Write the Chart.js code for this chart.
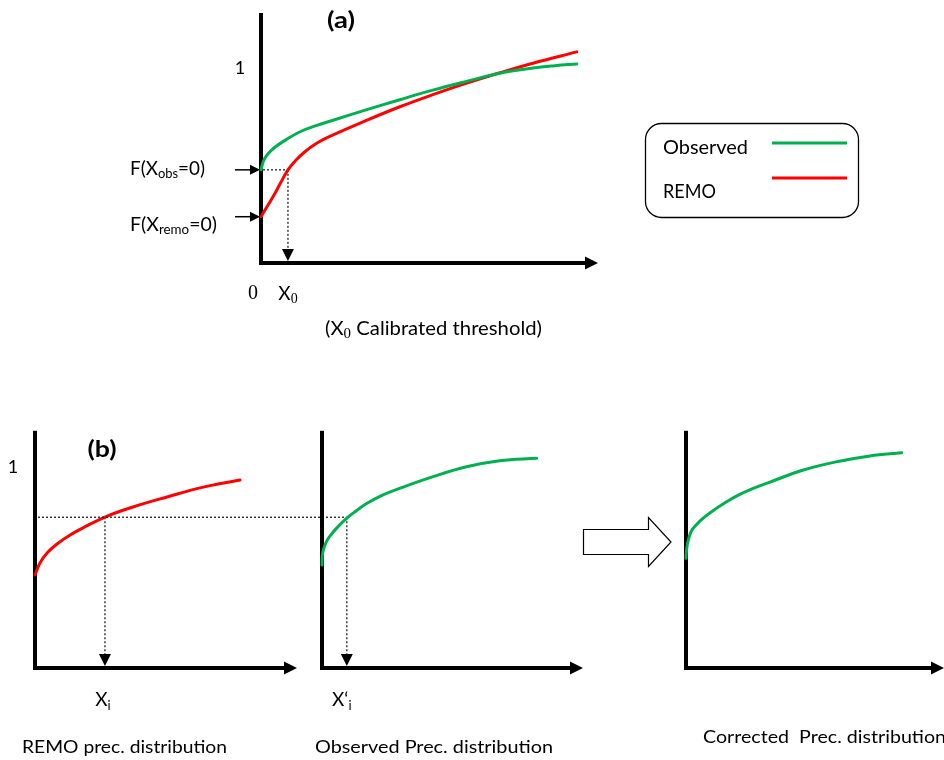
<!DOCTYPE html>
<html><head><meta charset="utf-8">
<script src="https://cdn.jsdelivr.net/npm/chart.js@4"></script>
<style>
html,body{margin:0;padding:0;background:#fff;}
#wrap{position:relative;width:944px;height:760px;overflow:hidden;}
canvas{position:absolute;left:0;top:0;}
</style></head><body>
<div id="wrap">
<canvas id="ca" width="944" height="760"></canvas>
<canvas id="cb1" width="944" height="760"></canvas>
<canvas id="cb2" width="944" height="760"></canvas>
<canvas id="cb3" width="944" height="760"></canvas>
</div>
<script>
// ---------------- DATA ----------------
const seriesNames = ['Observed', 'REMO'];
// Panel (a): CDFs of observed and REMO precipitation
const aObsX  = [0, 0.07, 0.16, 0.29, 0.47, 0.71, 1.16, 1.63, 2.14, 3.14, 4.12, 5.10, 6.10, 7.09, 8.07, 8.72, 9.37];
const aObsY  = [0.477, 0.521, 0.549, 0.574, 0.600, 0.628, 0.672, 0.703, 0.731, 0.785, 0.836, 0.885, 0.930, 0.972, 0.998, 1.010, 1.019];
const aRemoX = [0, 0.36, 0.59, 0.80, 1.01, 1.25, 1.65, 2.14, 3.14, 4.12, 5.10, 6.10, 7.09, 8.07, 9.37];
const aRemoY = [0.237, 0.340, 0.413, 0.477, 0.521, 0.562, 0.613, 0.656, 0.731, 0.800, 0.862, 0.921, 0.974, 1.023, 1.081];
const aThresholdX = 0.80;   // X0 calibrated threshold
const aObsAtZero  = 0.477;  // F(Xobs=0)
const aRemoAtZero = 0.237;  // F(Xremo=0)
// Panel (b): quantile mapping
const b1RemoX = [0, 0.19, 0.46, 0.84, 1.34, 1.83, 2.67, 3.74, 5.04, 6.30, 7.82];
const b1RemoY = [0.463, 0.522, 0.572, 0.617, 0.662, 0.697, 0.751, 0.801, 0.851, 0.896, 0.935];
const b2ObsX  = [0, 0.01, 0.07, 0.17, 0.31, 0.57, 0.95, 1.26, 1.71, 2.34, 2.98, 4.26, 5.54, 6.81, 8.22];
const b2ObsY  = [0.512, 0.557, 0.595, 0.629, 0.657, 0.697, 0.745, 0.777, 0.818, 0.861, 0.894, 0.952, 1.001, 1.031, 1.043];
const b3CorrX = [0, 0.03, 0.10, 0.21, 0.41, 0.70, 1.06, 1.47, 1.97, 2.56, 3.26, 4.55, 5.84, 7.13, 8.36];
const b3CorrY = [0.546, 0.597, 0.642, 0.682, 0.714, 0.749, 0.784, 0.818, 0.856, 0.891, 0.925, 0.985, 1.026, 1.055, 1.071];
const bQuantile = 0.75;  // common probability level
const bXi = 2.67;        // Xi
const bXiPrime = 0.95;   // X'i
const yTickLabel = '1';

// ---------------- STYLE ----------------
const GREEN = '#00B050', RED = '#FF0000';
const SANS = 'Lato, "Open Sans", sans-serif';
const SERIF = '"Liberation Serif", "DejaVu Serif", serif';

function richWidth(ctx, parts){ let w=0; for(const p of parts){ctx.font=p.font; w+=ctx.measureText(p.t).width;} return w; }
function drawRich(ctx, parts, x, y, opts={}){
  const align = opts.align || 'left';
  const natural = richWidth(ctx, parts);
  const target = opts.width || natural;
  const sx = target / natural;
  const x0 = align==='center' ? x - target/2 : (align==='right' ? x - target : x);
  ctx.save(); ctx.translate(x0, y); ctx.scale(sx, 1);
  ctx.textBaseline='middle'; ctx.textAlign='left'; ctx.fillStyle='#000';
  let cx = 0;
  for(const p of parts){ ctx.font=p.font; ctx.fillText(p.t, cx, p.dy||0); cx += ctx.measureText(p.t).width; }
  ctx.restore();
}
function drawAxes(chart){
  const {ctx, chartArea:{left,right,top,bottom}} = chart;
  ctx.save(); ctx.strokeStyle='#000'; ctx.lineWidth=4;
  ctx.beginPath(); ctx.moveTo(left, top); ctx.lineTo(left, bottom+2); ctx.stroke();
  ctx.beginPath(); ctx.moveTo(left-2, bottom); ctx.lineTo(right-12, bottom); ctx.stroke();
  ctx.fillStyle='#000'; ctx.beginPath();
  ctx.moveTo(right, bottom); ctx.lineTo(right-13, bottom-6.5); ctx.lineTo(right-13, bottom+6.5); ctx.closePath(); ctx.fill();
  ctx.restore();
}
function dotted(ctx, x1, y1, x2, y2){
  ctx.save(); ctx.strokeStyle='#222'; ctx.lineWidth=1.3; ctx.setLineDash([2,2]);
  ctx.beginPath(); ctx.moveTo(x1,y1); ctx.lineTo(x2,y2); ctx.stroke(); ctx.restore();
}
function downHead(ctx, x, yTip){
  ctx.save(); ctx.fillStyle='#000'; ctx.beginPath();
  ctx.moveTo(x, yTip); ctx.lineTo(x-6, yTip-12); ctx.lineTo(x+6, yTip-12); ctx.closePath(); ctx.fill(); ctx.restore();
}
function dropArrow(chart, xv, yv){
  const {ctx} = chart; const xs = chart.scales.x, ys = chart.scales.y;
  const px = xs.getPixelForValue(xv), py = ys.getPixelForValue(yv), pb = ys.getPixelForValue(0) - 2;
  dotted(ctx, px, py, px, pb - 11);
  downHead(ctx, px, pb);
}
function rightArrow(ctx, x1, x2, y){
  ctx.save(); ctx.strokeStyle='#000'; ctx.lineWidth=1.5;
  ctx.beginPath(); ctx.moveTo(x1, y); ctx.lineTo(x2-9, y); ctx.stroke();
  ctx.fillStyle='#000'; ctx.beginPath(); ctx.moveTo(x2, y); ctx.lineTo(x2-10, y-5); ctx.lineTo(x2-10, y+5); ctx.closePath(); ctx.fill();
  ctx.restore();
}
function ds(label, xs, ys, color){
  return { label, data: xs.map((x,i)=>({x, y: ys[i]})), showLine:true, borderColor:color, backgroundColor:color,
    borderWidth:3, pointRadius:0, tension:0.4, fill:false, clip:false, borderCapStyle:'round', borderJoinStyle:'round' };
}
function panelChart(id, datasets, area, xMax, yMax, plugin){
  return new Chart(document.getElementById(id), {
    type:'scatter',
    data:{datasets},
    options:{
      responsive:false, animation:false, devicePixelRatio:1, events:[],
      layout:{padding:{left:area.left, top:area.top, right:944-area.right, bottom:760-area.bottom}},
      scales:{ x:{type:'linear', min:0, max:xMax, display:false}, y:{type:'linear', min:0, max:yMax, display:false} },
      plugins:{ legend:{display:false}, tooltip:{enabled:false} }
    },
    plugins:[plugin]
  });
}

// ---------------- PANEL (a) ----------------
const chartA = panelChart('ca',
  [ds(seriesNames[0], aObsX, aObsY, GREEN), ds(seriesNames[1], aRemoX, aRemoY, RED)],
  {left:261, right:598, top:13, bottom:263}, 10, 1.28,
  { id:'panelA',
    beforeDatasetsDraw(chart){
      const {ctx} = chart; const xs=chart.scales.x, ys=chart.scales.y;
      drawAxes(chart);
      const x0 = xs.getPixelForValue(0), xt = xs.getPixelForValue(aThresholdX), yo = ys.getPixelForValue(aObsAtZero);
      dotted(ctx, x0+2, yo, xt, yo);
      dropArrow(chart, aThresholdX, aObsAtZero);
      rightArrow(ctx, x0-26, x0-1, ys.getPixelForValue(aObsAtZero));
      rightArrow(ctx, x0-26, x0-1, ys.getPixelForValue(aRemoAtZero));
    },
    afterDraw(chart){
      const {ctx} = chart; const xs=chart.scales.x, ys=chart.scales.y;
      const x0 = xs.getPixelForValue(0);
      drawRich(ctx, [{t:'(a)', font:'bold 22px '+SANS}], 341, 21, {align:'center', width:28});
      drawRich(ctx, [{t:yTickLabel, font:'18px '+SANS}], x0-21, ys.getPixelForValue(1), {align:'center'});
      drawRich(ctx, [{t:'F(X', font:'19px '+SANS},{t:'obs', font:'13px '+SANS, dy:5},{t:'=0)', font:'19px '+SANS}],
        130, ys.getPixelForValue(aObsAtZero)-1, {width:75});
      drawRich(ctx, [{t:'F(X', font:'19px '+SANS},{t:'remo', font:'13px '+SANS, dy:5},{t:'=0)', font:'19px '+SANS}],
        130, ys.getPixelForValue(aRemoAtZero)+8, {width:87});
      drawRich(ctx, [{t:'0', font:'20px '+SERIF}], x0-8, 294, {align:'center'});
      drawRich(ctx, [{t:'X', font:'19px '+SANS},{t:'0', font:'14px '+SERIF, dy:5}], xs.getPixelForValue(aThresholdX), 294, {align:'center'});
      drawRich(ctx, [{t:'(X', font:'19px '+SANS},{t:'0', font:'14px '+SERIF, dy:5},{t:' Calibrated threshold)', font:'19px '+SANS}],
        325, 329, {width:217});
      // legend box
      ctx.save(); ctx.strokeStyle='#000'; ctx.lineWidth=1.3;
      ctx.beginPath(); ctx.roundRect(645.5, 123.5, 213, 94, 16); ctx.stroke(); ctx.restore();
      const dsets = chart.data.datasets;
      const rows = [{txtY:148, lineY:143}, {txtY:192, lineY:178}];
      dsets.forEach((d,i)=>{
        drawRich(ctx, [{t:d.label, font:'20px '+SANS}], 663, rows[i].txtY, {width: i===0?85:53});
        ctx.save(); ctx.strokeStyle=d.borderColor; ctx.lineWidth=3;
        ctx.beginPath(); ctx.moveTo(772, rows[i].lineY); ctx.lineTo(847, rows[i].lineY); ctx.stroke(); ctx.restore();
      });
    }
  });

// ---------------- PANEL (b) ----------------
const B_YMAX = 1.18;
const chartB1 = panelChart('cb1', [ds(seriesNames[1], b1RemoX, b1RemoY, RED)],
  {left:35, right:297, top:430.8, bottom:668}, 10, B_YMAX,
  { id:'panelB1',
    beforeDatasetsDraw(chart){ drawAxes(chart); dropArrow(chart, bXi, bQuantile); },
    afterDraw(chart){
      const {ctx} = chart; const xs=chart.scales.x, ys=chart.scales.y;
      drawRich(ctx, [{t:'(b)', font:'bold 22px '+SANS}], 102, 450, {align:'center', width:29});
      drawRich(ctx, [{t:yTickLabel, font:'18px '+SANS}], 13, ys.getPixelForValue(1), {align:'center'});
      drawRich(ctx, [{t:'X', font:'19px '+SANS},{t:'i', font:'13px '+SANS, dy:6}], xs.getPixelForValue(bXi)-2, 700, {align:'center'});
      drawRich(ctx, [{t:'REMO prec. distribution', font:'18px '+SANS}], 22, 747, {width:205});
    }
  });
const chartB2 = panelChart('cb2', [ds(seriesNames[0], b2ObsX, b2ObsY, GREEN)],
  {left:322, right:583, top:430.8, bottom:668}, 10, B_YMAX,
  { id:'panelB2',
    beforeDatasetsDraw(chart){
      const {ctx} = chart; const xs=chart.scales.x, ys=chart.scales.y;
      const yq = ys.getPixelForValue(bQuantile);
      dotted(ctx, chartB1.scales.x.getPixelForValue(0)+3, yq, xs.getPixelForValue(bXiPrime), yq);
      drawAxes(chart);
      dropArrow(chart, bXiPrime, bQuantile);
    },
    afterDraw(chart){
      const {ctx} = chart; const xs=chart.scales.x;
      drawRich(ctx, [{t:'X\u2018', font:'19px '+SANS},{t:'i', font:'13px '+SANS, dy:6}], xs.getPixelForValue(bXiPrime)-5, 700, {align:'center'});
      drawRich(ctx, [{t:'Observed Prec. distribution', font:'18px '+SANS}], 315, 747, {width:238});
    }
  });
const chartB3 = panelChart('cb3', [ds('Corrected', b3CorrX, b3CorrY, GREEN)],
  {left:686, right:944, top:430.8, bottom:668}, 10, B_YMAX,
  { id:'panelB3',
    beforeDatasetsDraw(chart){
      const {ctx} = chart;
      drawAxes(chart);
      // block arrow between panels
      ctx.save(); ctx.strokeStyle='#000'; ctx.lineWidth=1.2; ctx.fillStyle='#fff';
      ctx.beginPath();
      ctx.moveTo(583.5, 529.5); ctx.lineTo(648.5, 529.5); ctx.lineTo(648.5, 517.5); ctx.lineTo(671, 542);
      ctx.lineTo(648.5, 566.5); ctx.lineTo(648.5, 554.5); ctx.lineTo(583.5, 554.5); ctx.closePath();
      ctx.fill(); ctx.stroke(); ctx.restore();
    },
    afterDraw(chart){
      drawRich(chart.ctx, [{t:'Corrected  Prec. distribution', font:'18px '+SANS}], 703, 737, {width:243});
    }
  });
</script>
</body></html>
